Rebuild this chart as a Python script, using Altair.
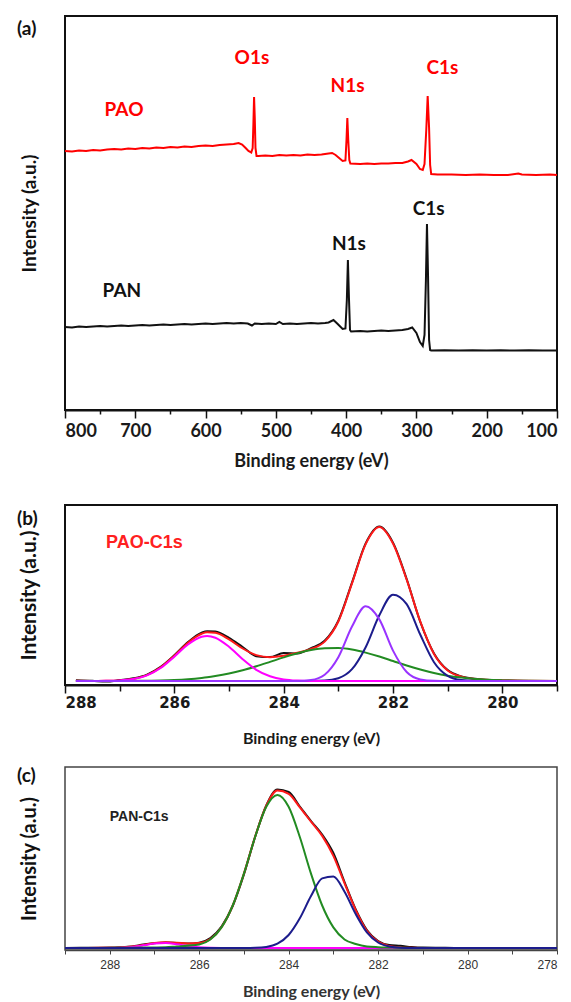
import altair as alt
import pandas as pd

# ---------------- (a) XPS survey spectra ----------------
pao_e = [800, 790, 780, 770, 760, 750, 740, 730, 720, 710, 700, 690, 680, 670, 660, 650, 640, 630, 620, 610,
         600, 590, 580, 570, 560, 553, 548, 543, 539, 535, 533, 532, 531, 530, 529, 527.5, 525, 515, 505, 495,
         485, 475, 465, 455, 445, 435, 425, 420, 415, 410, 405, 401, 399.5, 398.3, 397, 395.5, 394, 380, 370, 360,
         350, 340, 330, 320, 312, 307, 300, 295, 291, 288.5, 286, 284, 282, 280.5, 279, 270, 250, 230, 210, 190,
         170, 155, 150, 130, 110, 100]
pao_i = [259, 258.5, 259.5, 259, 260, 259.5, 260.5, 261, 260.5, 261.5, 261, 262, 261.5, 262.5, 262, 263, 262.5, 263.5, 263, 264,
         264.5, 264, 265, 265.5, 266, 267, 265.5, 262, 259, 257.5, 262, 285, 313, 292, 262, 254, 254, 254.5, 254, 255,
         254.5, 255, 254.5, 255.5, 255, 255.5, 256.5, 257, 255, 252, 249, 249.5, 270, 292, 270, 250, 246.5, 246, 246.5, 246,
         246.5, 246.5, 247, 247, 248.5, 250, 246, 241, 240, 246, 280, 314, 282, 245, 236, 235.5, 235.5, 235, 235.5, 235,
         235, 236.5, 235.5, 235, 235.5, 235]

pan_e = [800, 790, 780, 770, 760, 750, 740, 730, 720, 710, 700, 690, 680, 670, 660, 650, 640, 630, 620, 610,
         600, 590, 580, 570, 560, 550, 540, 534, 530, 520, 510, 500, 495, 490, 480, 470, 460, 450, 440, 430,
         425, 418, 412, 405, 401, 399, 397.5, 396, 394.5, 393, 380, 370, 360, 350, 340, 330, 320, 312, 306, 300,
         295, 291, 288.5, 286.5, 285, 283.5, 282, 280.5, 279, 260, 240, 220, 200, 180, 160, 140, 120, 100]
pan_i = [83, 82.5, 83.5, 83, 83.5, 84, 83.5, 84, 84.5, 84, 84.5, 85, 84.5, 85, 85.5, 85, 85.5, 86, 85.5, 86,
         86.5, 86, 86.5, 87, 86.5, 87, 86.5, 84.5, 86.5, 86, 86.5, 86, 88, 86, 86.5, 86, 86.5, 87, 86.5, 87,
         87.5, 90, 86, 81, 81.5, 110, 150, 112, 80, 78.5, 79, 78.5, 79, 79.5, 79, 79.5, 80, 81, 82.5, 77,
         68, 64, 75, 130, 186, 135, 70, 60, 59.5, 59.7, 59.5, 59.8, 59.5, 59.7, 59.5, 59.7, 59.5, 59.5]

a_lab_text = ["PAO", "O1s", "N1s", "C1s", "PAN", "N1s", "C1s"]
a_lab_e = [716, 534, 398, 263, 719, 396, 282.5]
a_lab_i = [300, 352, 324, 342, 119, 166, 201]
a_lab_col = ["#ff0000", "#ff0000", "#ff0000", "#ff0000", "#111111", "#111111", "#111111"]

# ---------------- (b) PAO C1s ----------------
b_e = [287.8, 287.5, 287.25, 287.0, 286.75, 286.5, 286.25, 286.0, 285.75, 285.5, 285.4, 285.25, 285.0, 284.75,
       284.5, 284.25, 284.0, 283.75, 283.5, 283.25, 283.0, 282.75, 282.5, 282.25, 282.0, 281.75, 281.5, 281.25,
       281.0, 280.75, 280.5, 280.0, 279.5, 279.0]
b_raw = [0.8, 0.2, -0.6, 0.9, 2.7, 6.4, 14.2, 25.8, 38.9, 48.3, 49.8, 49.4, 43.2, 34.0,
         24.8, 23.9, 28.0, 27.5, 32.8, 40.2, 60.3, 98.4, 137.6, 154.5, 138.4, 102.0, 59.0, 27.6,
         10.9, 4.6, 2.3, 0.6, 0.1, 0.0]
b_env = [0.2, 0.1, 0.2, 0.6, 2.1, 5.9, 13.6, 25.3, 38.3, 47.3, 48.7, 48.2, 41.6, 32.5,
         25.9, 23.8, 25.2, 28.2, 32.0, 39.4, 59.5, 97.7, 136.9, 154.0, 137.5, 101.3, 59.3, 27.0,
         10.5, 4.4, 2.1, 0.6, 0.2, 0.0]
b_mag = [0.0, 0.02, 0.13, 0.56, 1.98, 5.6, 13.0, 24.3, 36.5, 44.2, 45.0, 43.3, 34.2, 21.8,
         11.2, 4.7, 1.56, 0.42, 0.09, 0.0, 0.0, 0.0, 0.0, 0.0, 0.0, 0.0, 0.0, 0.0,
         0.0, 0.0, 0.0, 0.0, 0.0, 0.0]
b_grn = [0.0, 0.01, 0.04, 0.06, 0.13, 0.28, 0.55, 1.02, 1.81, 3.06, 3.7, 4.9, 7.4, 10.7,
         14.7, 19.1, 23.6, 27.7, 30.9, 32.7, 32.9, 31.4, 28.4, 24.5, 20.0, 15.5, 11.5, 8.0,
         5.3, 3.4, 2.0, 0.62, 0.16, 0.0]
b_pur = [0.0, 0.0, 0.0, 0.0, 0.0, 0.0, 0.0, 0.0, 0.0, 0.0, 0.0, 0.0, 0.0, 0.0,
         0.0, 0.0, 0.01, 0.09, 0.99, 6.3, 23.8, 54.5, 74.7, 61.6, 30.4, 9.0, 1.6, 0.17,
         0.0, 0.0, 0.0, 0.0, 0.0, 0.0]
b_nav = [0.0, 0.0, 0.0, 0.0, 0.0, 0.0, 0.0, 0.0, 0.0, 0.0, 0.0, 0.0, 0.0, 0.0,
         0.0, 0.0, 0.0, 0.0, 0.05, 0.44, 2.8, 11.8, 33.8, 65.7, 86.3, 76.8, 46.2, 18.8,
         5.2, 0.97, 0.12, 0.0, 0.0, 0.0]

# ---------------- (c) PAN C1s ----------------
c_e = [289.0, 288.5, 288.0, 287.75, 287.5, 287.25, 287.0, 286.75, 286.5, 286.25, 286.0, 285.75, 285.5, 285.25,
       285.0, 284.75, 284.5, 284.25, 284.0, 283.75, 283.5, 283.25, 283.0, 282.75, 282.5, 282.25, 282.0, 281.75,
       281.5, 281.25, 281.0, 280.5, 280.0, 279.0, 278.0]
c_raw = [0.0, 0.3, 0.4, 0.8, 1.6, 3.4, 4.7, 5.5, 5.0, 4.4, 5.3, 10.0, 21.5, 42.0,
         73.5, 111.0, 142.5, 158.5, 156.0, 141.5, 127.0, 113.5, 95.0, 66.0, 38.5, 18.0, 7.0, 3.0,
         2.2, 1.0, 0.4, 0.2, 0.0, 0.0, 0.0]
c_env = [0.0, 0.1, 0.2, 0.5, 1.4, 3.1, 4.9, 5.7, 5.3, 4.6, 5.0, 9.0, 20.8, 42.5,
         74.4, 111.2, 142.3, 157.4, 154.2, 140.7, 126.3, 112.1, 92.1, 64.7, 37.9, 17.1, 6.3, 2.0,
         0.6, 0.2, 0.1, 0.0, 0.0, 0.0, 0.0]
c_mag = [0.0, 0.0, 0.06, 0.3, 1.1, 2.65, 4.4, 4.96, 3.8, 1.9, 0.7, 0.16, 0.02, 0.0,
         0.0, 0.0, 0.0, 0.0, 0.0, 0.0, 0.0, 0.0, 0.0, 0.0, 0.0, 0.0, 0.0, 0.0,
         0.0, 0.0, 0.0, 0.0, 0.0, 0.0, 0.0]
c_grn = [0.0, 0.0, 0.1, 0.15, 0.3, 0.4, 0.5, 0.7, 1.5, 2.2, 3.5, 8.5, 20.6, 42.5,
         74.4, 111.0, 141.2, 153.0, 141.2, 111.0, 74.4, 42.5, 20.6, 8.5, 4.0, 1.5, 0.8, 0.5,
         0.3, 0.1, 0.0, 0.0, 0.0, 0.0, 0.0]
c_nav = [0.0, 0.0, 0.0, 0.0, 0.0, 0.0, 0.0, 0.0, 0.0, 0.0, 0.0, 0.0, 0.0, 0.0,
         0.03, 0.22, 1.1, 4.35, 13.0, 29.7, 51.9, 69.6, 71.5, 56.2, 33.9, 15.6, 5.5, 1.5,
         0.3, 0.05, 0.0, 0.0, 0.0, 0.0, 0.0]

W = 492
HA, HB, HC = 394, 180, 183
CAL = "Lato"


def ylayer(e, v, color, width, xenc, yenc, interp):
    df = pd.DataFrame({"E": e, "I": v})
    return alt.Chart(df).mark_line(color=color, strokeWidth=width, interpolate=interp).encode(x=xenc, y=yenc)


def tag(txt, yoff, size):
    return alt.Chart(pd.DataFrame({"t": [txt]})).mark_text(
        align="left", baseline="middle", font=CAL, fontWeight="bold", fontSize=size, color="#111111"
    ).encode(x=alt.value(-48), y=alt.value(yoff), text="t:N")


def yaxis(size, font=CAL):
    return alt.Axis(title="Intensity (a.u.)", labels=False, ticks=False, domain=False, grid=False,
                    titleFont=font, titleFontSize=size, titleFontWeight="bold", titleColor="#111111",
                    titleX=-36, titleBaseline="middle")


# ----- panel a -----
xa = alt.X("E:Q", scale=alt.Scale(domain=[100, 800], reverse=True, nice=False, zero=False),
           axis=alt.Axis(values=list(range(800, 99, -50)),
                         labelExpr="datum.value % 100 == 0 ? datum.label : ''",
                         tickSize={"condition": {"test": "datum.value % 100 == 0", "value": 8}, "value": 4},
                         tickColor="#111111", tickWidth=1.5, domainColor="#111111", domainWidth=2,
                         labelFont=CAL, labelFontWeight="bold", labelFontSize=18, labelColor="#1a1a1a",
                         labelPadding=4, labelOverlap=False, grid=False,
                         title="Binding energy (eV)", titleFont=CAL, titleFontSize=18, titleFontWeight="bold",
                         titleColor="#1a1a1a", titleY=42, titleBaseline="top"))
ya = alt.Y("I:Q", scale=alt.Scale(domain=[0, 394], nice=False, zero=False), axis=yaxis(19))

a_lab_df = pd.DataFrame({"E": a_lab_e, "I": a_lab_i, "t": a_lab_text, "c": a_lab_col})
pa = alt.layer(
    ylayer(pan_e, pan_i, "#111111", 2, xa, ya, "linear"),
    ylayer(pao_e, pao_i, "#ff0000", 2, xa, ya, "linear"),
    alt.Chart(a_lab_df).mark_text(font=CAL, fontWeight="bold", fontSize=19, baseline="middle").encode(
        x=xa, y=ya, text="t:N", color=alt.Color("c:N", scale=None)),
    tag("(a)", 13, 19),
).properties(width=W, height=HA, view=alt.ViewBackground(stroke="#111111", strokeWidth=2))

# ----- panel b -----
xb = alt.X("E:Q", scale=alt.Scale(domain=[279, 288], reverse=True, nice=False, zero=False),
           axis=alt.Axis(values=list(range(288, 278, -1)),
                         labelExpr="datum.value % 2 == 0 ? datum.label : ''",
                         tickSize={"condition": {"test": "datum.value % 2 == 0", "value": 8}, "value": 6},
                         tickColor="#111111", tickWidth=1.5, domainColor="#111111", domainWidth=2,
                         labelFont="DejaVu Sans", labelFontWeight="bold", labelFontSize=15, labelColor="#1a1a1a",
                         labelPadding=2, labelOverlap=False, grid=False,
                         title="Binding energy (eV)", titleFont=CAL, titleFontSize=16, titleFontWeight="bold",
                         titleColor="#1a1a1a", titleY=45, titleBaseline="top"))
yb = alt.Y("I:Q", scale=alt.Scale(domain=[-4, 176], nice=False, zero=False), axis=yaxis(21))

pb = alt.layer(
    ylayer(b_e, b_raw, "#111111", 2, xb, yb, "monotone"),
    ylayer(b_e, b_env, "#ff1a1a", 2, xb, yb, "monotone"),
    ylayer(b_e, b_grn, "#228b22", 2, xb, yb, "monotone"),
    ylayer(b_e, b_nav, "#1c1c8c", 2, xb, yb, "monotone"),
    ylayer(b_e, b_mag, "#ff00ff", 2, xb, yb, "monotone"),
    ylayer(b_e, b_pur, "#9933ff", 2, xb, yb, "monotone"),
    alt.Chart(pd.DataFrame({"E": [287.25], "I": [138.5], "t": ["PAO-C1s"]})).mark_text(
        font="Liberation Sans", fontWeight="bold", fontSize=18, align="left", baseline="middle", color="#ff2020"
    ).encode(x=xb, y=yb, text="t:N"),
    tag("(b)", 14, 19),
).properties(width=W, height=HB, view=alt.ViewBackground(stroke="#111111", strokeWidth=2))

# ----- panel c -----
xc = alt.X("E:Q", scale=alt.Scale(domain=[278, 289], reverse=True, nice=False, zero=False),
           axis=alt.Axis(values=list(range(289, 277, -1)),
                         labelExpr="datum.value % 2 == 0 ? datum.label : ''",
                         tickSize=4, tickColor="#444444", tickWidth=1, domainColor="#444444", domainWidth=1.5,
                         labelFont="Liberation Sans", labelFontSize=12, labelColor="#333333",
                         labelPadding=5, labelOverlap=False, grid=False,
                         title="Binding energy (eV)", titleFont=CAL, titleFontSize=16, titleFontWeight="bold",
                         titleColor="#333333", titleY=33, titleBaseline="top"))
yc = alt.Y("I:Q", scale=alt.Scale(domain=[-2, 181], nice=False, zero=False), axis=yaxis(20))

pc = alt.layer(
    ylayer(c_e, c_raw, "#111111", 2, xc, yc, "monotone"),
    ylayer(c_e, c_env, "#ff1a1a", 2, xc, yc, "monotone"),
    ylayer(c_e, c_mag, "#ff00ff", 2, xc, yc, "monotone"),
    ylayer(c_e, c_grn, "#228b22", 2, xc, yc, "monotone"),
    ylayer(c_e, c_nav, "#1c1c8c", 2, xc, yc, "monotone"),
    alt.Chart(pd.DataFrame({"E": [288.0], "I": [131], "t": ["PAN-C1s"]})).mark_text(
        font="Liberation Sans", fontWeight="bold", fontSize=14, align="left", baseline="middle", color="#222222"
    ).encode(x=xc, y=yc, text="t:N"),
    tag("(c)", 9, 19),
).properties(width=W, height=HC, view=alt.ViewBackground(stroke="#444444", strokeWidth=1.5))

chart = alt.vconcat(
    pa,
    alt.vconcat(pb, pc, spacing=19),
    spacing=33,
).properties(
    padding={"left": 8, "top": 7, "right": 0, "bottom": 0},
    background="white",
)

chart.save("out.html", embed_options={"renderer": "svg", "actions": False})
